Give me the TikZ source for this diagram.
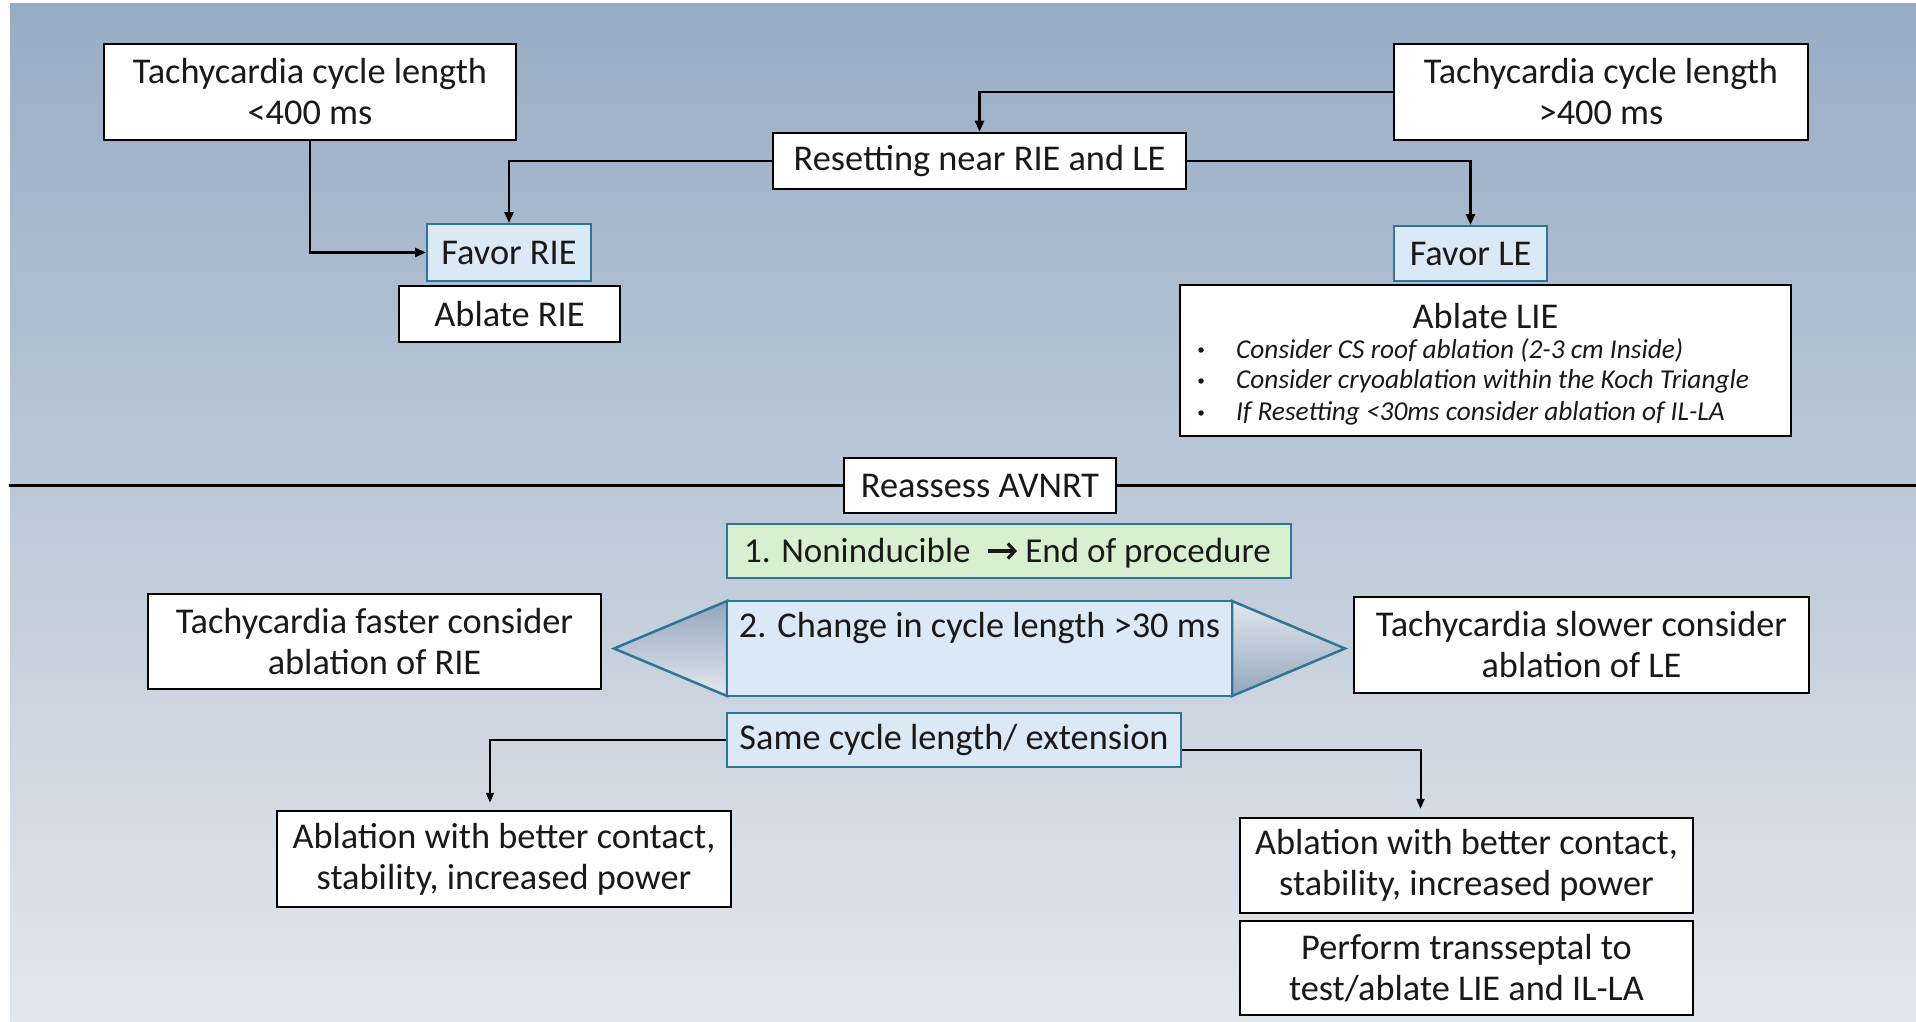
\documentclass[tikz,border=0pt]{standalone}
\usepackage{fontspec}
\setmainfont{Carlito}
\usetikzlibrary{arrows.meta}
\definecolor{bgtop}{RGB}{151,172,196}
\definecolor{bgbot}{RGB}{227,231,236}
\definecolor{tealc}{RGB}{46,117,150}
\definecolor{lblue}{RGB}{219,232,246}
\definecolor{lgreen}{RGB}{217,240,208}
\definecolor{shdark}{RGB}{148,166,188}
\definecolor{shlight}{RGB}{226,232,239}
\definecolor{txt}{RGB}{25,25,25}
\newcommand\mainfs{\fontsize{36.3}{41}\selectfont}
\newcommand\nonfs{\fontsize{35}{41}\selectfont}
\newcommand\smallfs{\fontsize{27.3}{31.5}\selectfont}
\tikzset{
  box/.style={draw=black, line width=2.5pt, fill=white, inner sep=0pt, align=center, font=\mainfs, text=txt},
  bbox/.style={draw=tealc, line width=2pt, fill=lblue, inner sep=0pt, align=center, font=\mainfs, text=txt},
  gbox/.style={bbox, fill=lgreen},
  lbl/.style={inner sep=0pt, font=\mainfs, text=txt},
  blt/.style={inner sep=0pt, font=\smallfs\itshape, text=txt, anchor=west},
  dotc/.style={circle, fill=txt, inner sep=0pt, minimum size=5.5pt},
  conn/.style={line width=2.5pt, -{Triangle[length=11pt,width=9pt]}},
  connb/.style={line width=2pt, -{Triangle[length=10pt,width=8pt]}},
  thickarr/.style={draw=txt, line width=3.2pt, -{Straight Barb[length=7pt,width=15pt,line width=3.2pt]}},
  tri/.style={draw=tealc, line width=2.5pt, line join=miter, shading angle=-45},
}
\begin{document}
\begin{tikzpicture}[x=1pt,y=-1pt]
\useasboundingbox (0,0) rectangle (1916,1022);
\fill[white] (0,0) rectangle (1916,1022);
\shade[top color=bgtop, bottom color=bgbot] (10,4) rectangle (1916,1022);

% top section
\node[box, minimum width=412pt, minimum height=96pt] (a) at (310,92) {Tachycardia cycle length\\<400 ms};
\node[box, minimum width=414pt, minimum height=96pt] (b) at (1601,92) {Tachycardia cycle length\\>400 ms};
\node[box, minimum width=413pt, minimum height=56pt] (c) at (979.5,161) {Resetting near RIE and LE};
\node[bbox, minimum width=164pt, minimum height=57pt] (favrie) at (509,252.5) {Favor RIE};
\node[bbox, minimum width=153pt, minimum height=55pt] (favle) at (1470.5,253.5) {Favor LE};
\node[box, minimum width=221pt, minimum height=56pt] (ablrie) at (509.5,314) {Ablate RIE};
\node[box, minimum width=611pt, minimum height=151pt] (abllie) at (1485.5,360.5) {};
\node[lbl] (llietitle) at (1485.5,316) {Ablate LIE};
\node[dotc] (d1) at (1201,350) {};
\node[dotc] (d2) at (1201,381) {};
\node[dotc] (d3) at (1201,413) {};
\node[blt] (t1) at (1236,350) {Consider CS roof ablation (2-3 cm Inside)};
\node[blt] (t2) at (1236,381) {Consider cryoablation within the Koch Triangle};
\node[blt] (t3) at (1236,413) {If Resetting <30ms consider ablation of IL-LA};

\draw[conn] (b.west) -| (c.north);
\draw[conn] (c.west) -| (favrie.north);
\draw[conn] (c.east) -| (favle.north);
\draw[conn] (a.south) |- (favrie.west);

% divider
\node[box, minimum width=272pt, minimum height=55pt] (re) at (980,485.5) {Reassess AVNRT};
\coordinate (divl) at (9,485.5);
\coordinate (divr) at (1916,485.5);
\draw[line width=2.5pt] (divl) -- (re.west);
\draw[line width=2.5pt] (re.east) -- (divr);

% bottom section
\node[gbox, minimum width=564pt, minimum height=54pt] (non) at (1009,551) {};
\node[lbl, font=\nonfs, anchor=base west] (non1) at (744,562) {1. Noninducible};
\node[lbl, font=\nonfs, anchor=base east] (non2) at (1271,562) {End of procedure};
\coordinate (arrs) at (988,551);
\coordinate (arre) at (1017,551);
\draw[thickarr] (arrs) -- (arre);

\coordinate (tipl) at (614,648.5);
\coordinate (tipr) at (1345,648.5);
\coordinate (rnw) at (727,601);
\coordinate (rsw) at (727,696);
\coordinate (rne) at (1232,601);
\coordinate (rse) at (1232,696);
\shadedraw[tri, top color=shdark, bottom color=shlight] (rnw) -- (tipl) -- (rsw) -- cycle;
\shadedraw[tri, top color=shlight, bottom color=shdark] (rne) -- (tipr) -- (rse) -- cycle;
\node[bbox, line width=2.5pt, minimum width=505pt, minimum height=95pt] (chg) at (979.5,648.5) {};
\node[lbl] (chgtxt) at (979.5,628) {2. Change in cycle length >30 ms};

\node[box, minimum width=453pt, minimum height=95pt] (fast) at (374.5,641.5) {Tachycardia faster consider\\ablation of RIE};
\node[box, minimum width=455pt, minimum height=96pt] (slow) at (1581.5,645) {Tachycardia slower consider\\ablation of LE};

\node[bbox, minimum width=454pt, minimum height=54pt] (same) at (954,740) {Same cycle length/ extension};
\node[box, minimum width=454pt, minimum height=96pt] (bl) at (504,859) {Ablation with better contact,\\stability, increased power};
\node[box, minimum width=453pt, minimum height=95pt] (br1) at (1466.5,865.5) {Ablation with better contact,\\stability, increased power};
\node[box, minimum width=453pt, minimum height=94pt] (br2) at (1466.5,968) {Perform transseptal to\\test/ablate LIE and IL-LA};

\draw[connb, shorten >=7pt] (same.west) -| ([xshift=-14pt]bl.north);
\draw[connb, shorten >=8pt] ([yshift=-10pt]same.east) -| ([xshift=-46pt]br1.north);
\end{tikzpicture}
\end{document}
